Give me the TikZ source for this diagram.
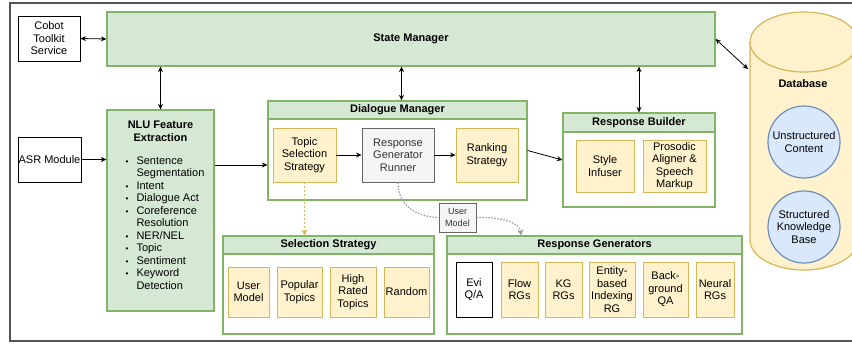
\documentclass[tikz,border=0pt]{standalone}
\usepackage{fontspec}
\setmainfont{Liberation Sans}
\usetikzlibrary{arrows.meta}
\definecolor{gfill}{HTML}{D5E8D4}
\definecolor{gline}{HTML}{82B366}
\definecolor{yfill}{HTML}{FFF2CC}
\definecolor{yline}{HTML}{D6B656}
\definecolor{bfill}{HTML}{DAE8FC}
\definecolor{bline}{HTML}{6C8EBF}
\definecolor{qfill}{HTML}{F5F5F5}
\definecolor{qline}{HTML}{666666}
\definecolor{qtext}{HTML}{333333}
\definecolor{framec}{HTML}{555555}
\begin{document}
\begin{tikzpicture}[x=1pt,y=-1pt,
  font=\fontsize{11}{12.5}\selectfont,
  >={Stealth[length=5.5pt,width=5pt]},
  every node/.style={inner sep=0.5pt, align=center},
  plainbox/.style={draw=black, fill=white, line width=0.8pt},
  greenbox/.style={draw=gline, fill=gfill, line width=1.2pt},
  contbox/.style={draw=gline, fill=white, line width=1.2pt},
  hdrbox/.style={draw=gline, fill=gfill, line width=1.2pt, font=\fontsize{11}{12.5}\selectfont\bfseries, anchor=north},
  ybox/.style={draw=yline, fill=yfill, line width=0.9pt},
  qbox/.style={draw=qline, fill=qfill, line width=0.9pt, text=qtext},
  bcirc/.style={circle, draw=bline, fill=bfill, line width=1.2pt, minimum size=72pt, inner sep=0pt},
  conn/.style={line width=0.8pt, draw=black},
  golddash/.style={line width=1.2pt, draw=yline, dash pattern=on 2pt off 2pt, -{Stealth[length=6pt,width=6pt,fill=yline]}},
  graydot/.style={line width=1.2pt, draw=gray!80, dash pattern=on 1.5pt off 1.5pt},
]
\useasboundingbox (0,0) rectangle (852,343);
\clip (0,0) rectangle (852,343);

% outer frame
\draw[framec, line width=1.2pt] (10,3) rectangle (900,341);

% database cylinder
\draw[draw=yline, fill=yfill, line width=1.2pt]
  (750,42) -- (750,240) arc[start angle=180,end angle=360,x radius=54pt,y radius=30pt]
  -- (858,42) arc[start angle=0,end angle=180,x radius=54pt,y radius=30pt] -- cycle;
\draw[draw=yline, line width=1.2pt] (750,42) arc[start angle=180,end angle=360,x radius=54pt,y radius=30pt];
\node[font=\fontsize{11}{12.5}\selectfont\bfseries] (dblabel) at (803,84) {Database};
\node[bcirc] (unstr) at (804,142) {Unstructured\\Content};
\node[bcirc] (str) at (804,227) {Structured\\Knowledge\\Base};
\coordinate (dbt) at (748,69);

% top row
\node[plainbox, minimum width=62pt, minimum height=45pt] (cobot) at (49,38.5) {Cobot\\Toolkit\\Service};
\node[greenbox, minimum width=608pt, minimum height=54pt, font=\fontsize{11}{12.5}\selectfont\bfseries] (sm) at (411,39) {State Manager};

% ASR and NLU
\node[plainbox, minimum width=63pt, minimum height=45pt] (asr) at (49.5,159.5) {ASR Module};
\node[greenbox, minimum width=107pt, minimum height=201pt] (nlu) at (160.5,210.5) {};
\node[font=\fontsize{11}{12.5}\selectfont\bfseries] (nluh) at (160.5,131.5) {NLU Feature\\Extraction};
\newcommand{\bul}{{\fontsize{8}{8}\selectfont\textbullet}}
\node[anchor=north west, inner sep=0pt, align=left] (nlulist) at (125.5,155.5) {%
\renewcommand{\arraystretch}{1}%
\begin{tabular}{@{}l@{\hspace{8pt}}l@{}}
\bul & Sentence\\
     & Segmentation\\
\bul & Intent\\
\bul & Dialogue Act\\
\bul & Coreference\\
     & Resolution\\
\bul & NER/NEL\\
\bul & Topic\\
\bul & Sentiment\\
\bul & Keyword\\
     & Detection
\end{tabular}};

% Dialogue Manager
\node[contbox, minimum width=259pt, minimum height=99pt] (dm) at (397.5,150.5) {};
\node[hdrbox, minimum width=259pt, minimum height=18pt] (dmh) at (dm.north) {Dialogue Manager};
\node[ybox, minimum width=63pt, minimum height=54pt] (topic) at (304.5,155) {Topic\\Selection\\Strategy};
\node[qbox, minimum width=72pt, minimum height=54pt] (rgr) at (398,155) {Response\\Generator\\Runner};
\node[ybox, minimum width=62pt, minimum height=54pt] (rank) at (487,155) {Ranking\\Strategy};

% Response Builder
\node[contbox, minimum width=152pt, minimum height=94pt] (rb) at (639,160) {};
\node[hdrbox, minimum width=152pt, minimum height=19pt] (rbh) at (rb.north) {Response Builder};
\node[ybox, minimum width=58pt, minimum height=52pt] (style) at (605,166) {Style\\Infuser};
\node[ybox, minimum width=63pt, minimum height=52pt] (pros) at (674.5,166) {Prosodic\\Aligner \&\\Speech\\Markup};

% Selection Strategy
\node[contbox, minimum width=211pt, minimum height=98pt] (ss) at (328.5,285) {};
\node[hdrbox, minimum width=211pt, minimum height=18pt] (ssh) at (ss.north) {Selection Strategy};
\node[ybox, minimum width=41pt, minimum height=50pt] (um1) at (248.5,292) {User\\Model};
\node[ybox, minimum width=45pt, minimum height=50pt] (pop) at (299.5,292) {Popular\\Topics};
\node[ybox, minimum width=46pt, minimum height=50pt] (high) at (353,292) {High\\Rated\\Topics};
\node[ybox, minimum width=45pt, minimum height=50pt] (rand) at (406.5,292) {Random};

% Response Generators
\node[contbox, minimum width=295pt, minimum height=98pt] (rg) at (594.5,285) {};
\node[hdrbox, minimum width=295pt, minimum height=18pt] (rgh) at (rg.north) {Response Generators};
\node[plainbox, minimum width=36pt, minimum height=55pt] (evi) at (474,289.5) {Evi\\Q/A};
\node[ybox, minimum width=37pt, minimum height=55pt] (flow) at (519.5,289.5) {Flow\\RGs};
\node[ybox, minimum width=37pt, minimum height=55pt] (kg) at (563.5,289.5) {KG\\RGs};
\node[ybox, minimum width=46pt, minimum height=55pt] (ent) at (612,289.5) {Entity-\\based\\Indexing\\RG};
\node[ybox, minimum width=45pt, minimum height=55pt] (back) at (665.5,289.5) {Back-\\ground\\QA};
\node[ybox, minimum width=38pt, minimum height=55pt] (neur) at (715,289.5) {Neural\\RGs};

% user model label on dotted connector
\node[qbox, minimum width=37pt, minimum height=29pt, font=\fontsize{9}{11.5}\selectfont] (uml) at (457.5,217.5) {User\\Model};

% connectors
\draw[conn,<->] (cobot.east) -- (sm.west);
\draw[conn,<->] (nlu.north |- sm.south) -- (nlu.north);
\draw[conn,<->] ([xshift=4pt]dm.north |- sm.south) -- ([xshift=4pt]dm.north);
\draw[conn,<->] (rb.north |- sm.south) -- (rb.north);
\draw[conn,<->] (sm.east) -- (dbt);
\draw[conn,->] (asr.east) -- (asr.east -| nlu.west);
\coordinate (dmin) at ([yshift=-14.5pt]dm.west);
\draw[conn,->] (nlu.east |- dmin) -- (dmin);
\draw[conn,->] (topic.east) -- (rgr.west);
\draw[conn,->] (rgr.east) -- (rank.west);
\draw[conn,->] (dm.east) -- (rb.west);
\draw[golddash] (topic.south) -- (topic.south |- ss.north);
\draw[graydot] (rgr.south) .. controls (398,208) and (420,217) .. (uml.west);
\draw[graydot, -{Stealth[length=6pt,width=6pt,fill=gray!80]}] (uml.east) .. controls (506,217) and (520,224) .. ([xshift=-73.5pt]rg.north);
\end{tikzpicture}
\end{document}
